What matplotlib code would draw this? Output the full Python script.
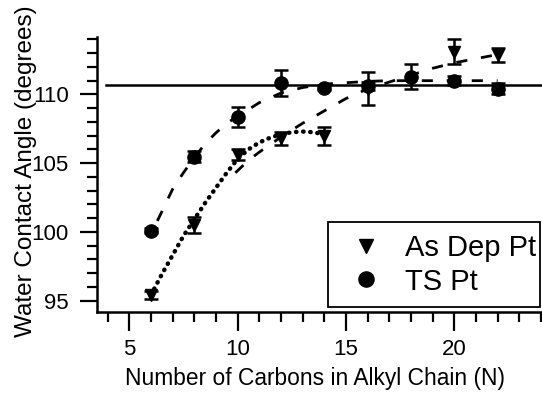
import numpy as np
import matplotlib.pyplot as plt
from matplotlib.ticker import MultipleLocator

plt.rcParams['font.family'] = ['Liberation Sans', 'DejaVu Sans']

# measured points
n_asdep = [6, 8, 10, 12, 14, 16, 20, 22]
wca_asdep = [95.4, 100.5, 105.6, 106.8, 107.0, 110.4, 113.1, 112.85]
err_asdep = [0.3, 0.6, 0.4, 0.5, 0.65, 1.2, 0.9, 0.5]

n_ts = [6, 8, 10, 12, 14, 16, 18, 20, 22]
wca_ts = [100.1, 105.45, 108.35, 110.8, 110.5, 110.6, 111.3, 111.0, 110.4]
err_ts = [0.15, 0.4, 0.7, 0.95, 0.2, 0.3, 0.9, 0.35, 0.4]

# fit curves
fit_asdep_short_x = [6.0, 6.5, 7.0, 7.5, 8.0, 8.5, 9.0, 9.5, 10.0, 10.5, 11.0, 11.5, 12.0, 12.5, 13.0, 13.5, 14.0]
fit_asdep_short_y = [95.4, 96.9, 98.3, 99.7, 100.9, 102.1, 103.2, 104.3, 105.3, 106.0, 106.5, 106.85, 107.1, 107.25, 107.3, 107.25, 107.1]

fit_asdep_long_x = [9.9, 10.5, 11, 12, 13, 14, 15, 16, 17, 18, 19, 20, 21, 22]
fit_asdep_long_y = [104.3, 105.2, 105.8, 106.9, 107.9, 108.8, 109.7, 110.4, 110.9, 111.4, 111.9, 112.3, 112.6, 112.9]

fit_ts_x = [6.3, 7, 7.5, 8, 8.5, 9, 9.5, 10, 11, 12, 13, 14, 15, 16, 17, 18, 19, 20, 21, 22]
fit_ts_y = [100.8, 103.1, 104.3, 105.4, 106.4, 107.2, 107.9, 108.4, 109.4, 110.1, 110.5, 110.75, 110.85, 110.95, 111.0, 111.0, 111.0, 111.0, 111.0, 111.0]

ref_level = 110.68

fig = plt.figure(figsize=(5.42, 3.97), dpi=100)
ax = fig.add_axes([0.1784, 0.2149, 0.8216, 0.6927])

ax.plot([3.95, 24.5], [ref_level, ref_level], color='black', lw=1.8)

ax.plot(fit_ts_x, fit_ts_y, color='black', lw=2, linestyle=(0, (4, 5)))
ax.plot(fit_asdep_long_x, fit_asdep_long_y, color='black', lw=2, linestyle=(0, (4, 5)))
ax.plot(fit_asdep_short_x, fit_asdep_short_y, color='black', lw=3.2,
        linestyle=(0, (0.1, 1.5)), dash_capstyle='round')

ax.errorbar(n_asdep, wca_asdep, yerr=err_asdep, fmt='none', ecolor='black',
            elinewidth=1.8, capsize=5, capthick=1.8)
ax.errorbar(n_ts, wca_ts, yerr=err_ts, fmt='none', ecolor='black',
            elinewidth=1.8, capsize=5, capthick=1.8)
ax.plot(n_asdep, wca_asdep, 'v', color='black', markersize=8.5, label='As Dep Pt')
ax.plot(n_ts, wca_ts, 'o', color='black', markersize=9.5, label='TS Pt')

ax.set_xlim(3.5, 24.05)
ax.set_ylim(94.2, 114.2)
ax.xaxis.set_major_locator(MultipleLocator(5))
ax.xaxis.set_minor_locator(MultipleLocator(1))
ax.yaxis.set_major_locator(MultipleLocator(5))
ax.yaxis.set_minor_locator(MultipleLocator(1))

for s in ['top', 'right']:
    ax.spines[s].set_visible(False)
for s in ['left', 'bottom']:
    ax.spines[s].set_linewidth(1.8)

ax.tick_params(axis='x', which='major', length=13.5, width=1.6, pad=6, labelsize=16)
ax.tick_params(axis='x', which='minor', length=7, width=1.6)
ax.tick_params(axis='y', which='major', length=12, width=1.6, pad=8, labelsize=16)
ax.tick_params(axis='y', which='minor', length=7, width=1.6)

ax.set_xlabel('Number of Carbons in Alkyl Chain (N)', fontsize=16.4)
ax.xaxis.set_label_coords(0.49, -0.2)
ax.set_ylabel('Water Contact Angle (degrees)', fontsize=17.5)
ax.yaxis.set_label_coords(-0.135, 0.51)

leg = ax.legend(loc='lower left', bbox_to_anchor=(0.519, 0.016, 0.477, 0.311),
                mode='expand', fontsize=21, frameon=True, fancybox=False,
                edgecolor='black', handlelength=1.85, handletextpad=0.4,
                labelspacing=0.2, borderpad=0.4, borderaxespad=0, markerscale=1.15)
leg.get_frame().set_linewidth(1.3)
leg.get_frame().set_alpha(1)

fig.savefig('out.png', dpi=100)
